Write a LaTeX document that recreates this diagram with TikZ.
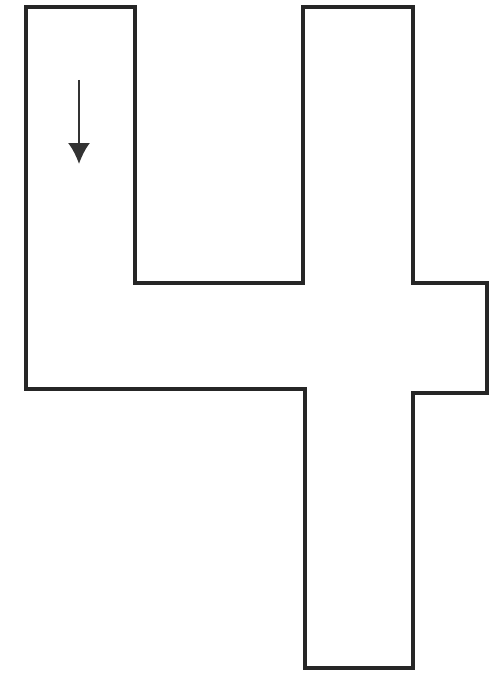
\documentclass[tikz,border=0pt]{standalone}
\usetikzlibrary{arrows.meta}

\newcommand{\coordCuatro}{
\coordinate (A) at (26,7);
\coordinate (B) at (135,7);
\coordinate (C) at (135,283);
\coordinate (D) at (303,283);
\coordinate (E) at (303,7);
\coordinate (F) at (413,7);
\coordinate (G) at (413,283);
\coordinate (H) at (487,283);
\coordinate (I) at (487,393);
\coordinate (J) at (413,393);
\coordinate (K) at (413,668);
\coordinate (L) at (305,668);
\coordinate (M) at (305,389);
\coordinate (N) at (26,389);
}
\tikzset{
contorno/.style={black!85,line width=2.2pt,line join=miter},
flecha/.style={black!80,line width=1.3pt,-{Latex[length=4.2mm,width=4.4mm]}}
}

\begin{document}
\begin{tikzpicture}[x=0.02cm,y=-0.02cm]
    \useasboundingbox (0,0) rectangle (492,678);
    \coordCuatro

    \draw[contorno] (A)--(B)--(C)--(D)--(E)--(F)--(G)--(H)--(I)--(J)--(K)--(L)--(M)--(N)--cycle;

    \coordinate (inicio) at (79,80);
    \coordinate (fin) at (79,164);
    \draw[flecha] (inicio)--(fin);
\end{tikzpicture}
\end{document}
